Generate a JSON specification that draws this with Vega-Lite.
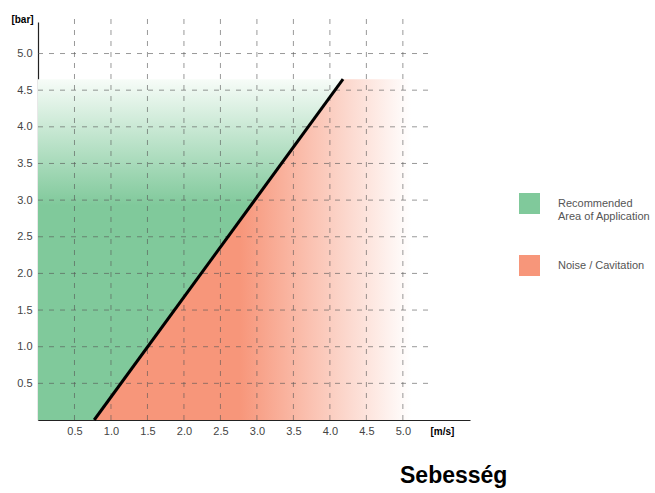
{
  "$schema": "https://vega.github.io/schema/vega-lite/v6.json",
  "width": 432,
  "height": 398,
  "autosize": {"type": "none"},
  "padding": {"left": 38, "top": 22, "right": 185, "bottom": 73},
  "background": "white",
  "config": {
    "view": {"stroke": null},
    "font": "Liberation Sans"
  },
  "title": {
    "text": "Sebesség",
    "orient": "bottom",
    "anchor": "start",
    "frame": "group",
    "dx": 362,
    "offset": 29,
    "fontSize": 23,
    "fontWeight": "bold",
    "color": "#000000",
    "font": "Liberation Sans"
  },
  "datasets": {
    "green": [
      {"y": 0, "x": 0, "x2": 0.77},
      {"y": 4.65, "x": 0, "x2": 4.18}
    ],
    "red": [
      {"y": 0, "x": 0.77, "x2": 5.2},
      {"y": 4.65, "x": 4.18, "x2": 5.2}
    ],
    "limit": [
      {"x": 0.77, "y": 0},
      {"x": 4.18, "y": 4.65}
    ],
    "hgrid": [
      {"v": 0.5}, {"v": 1.0}, {"v": 1.5}, {"v": 2.0}, {"v": 2.5},
      {"v": 3.0}, {"v": 3.5}, {"v": 4.0}, {"v": 4.5}, {"v": 5.0}
    ],
    "legend": [
      {"cat": "Recommended|Area of Application"},
      {"cat": "Noise / Cavitation"}
    ]
  },
  "layer": [
    {
      "data": {"name": "green"},
      "mark": {
        "type": "area",
        "orient": "horizontal",
        "fill": {
          "gradient": "linear",
          "x1": 0, "y1": 1, "x2": 0, "y2": 0,
          "stops": [
            {"offset": 0, "color": "#80c99b"},
            {"offset": 0.63, "color": "#80c99b"},
            {"offset": 1, "color": "#f7fcf8"}
          ]
        }
      },
      "encoding": {
        "y": {"field": "y", "type": "quantitative", "scale": {"domain": [0, 5.43], "nice": false},
          "axis": {
            "values": [0.5, 1.0, 1.5, 2.0, 2.5, 3.0, 3.5, 4.0, 4.5, 5.0],
            "format": ".1f",
            "grid": false,
            "ticks": false,
            "domainColor": "#222222",
            "domainWidth": 1.2,
            "labelColor": "#444444",
            "labelFontSize": 11,
            "labelPadding": 6,
            "title": "[bar]",
            "titleAngle": 0,
            "titleX": -16,
            "titleY": -3,
            "titleAlign": "center",
            "titleBaseline": "middle",
            "titleFontSize": 10,
            "titleFontWeight": "bold",
            "titleColor": "#000000"
          }
        },
        "x": {"field": "x", "type": "quantitative", "scale": {"domain": [0, 5.92], "nice": false},
          "axis": {
            "values": [0.5, 1.0, 1.5, 2.0, 2.5, 3.0, 3.5, 4.0, 4.5, 5.0],
            "format": ".1f",
            "grid": false,
            "ticks": false,
            "domainColor": "#222222",
            "domainWidth": 1.2,
            "labelColor": "#444444",
            "labelFontSize": 11,
            "labelPadding": 5,
            "title": "[m/s]",
            "titleX": 392,
            "titleY": 11,
            "titleAlign": "left",
            "titleBaseline": "middle",
            "titleFontSize": 10,
            "titleFontWeight": "bold",
            "titleColor": "#000000"
          }
        },
        "x2": {"field": "x2"}
      }
    },
    {
      "data": {"name": "red"},
      "mark": {
        "type": "area",
        "orient": "horizontal",
        "fill": {
          "gradient": "linear",
          "x1": 0, "y1": 0, "x2": 1, "y2": 0,
          "stops": [
            {"offset": 0, "color": "#f7967a"},
            {"offset": 0.45, "color": "#f7967a"},
            {"offset": 0.98, "color": "#ffffff"}
          ]
        }
      },
      "encoding": {
        "y": {"field": "y", "type": "quantitative"},
        "x": {"field": "x", "type": "quantitative"},
        "x2": {"field": "x2"}
      }
    },
    {
      "data": {"name": "hgrid"},
      "mark": {"type": "rule", "stroke": "#555555", "strokeOpacity": 0.6, "strokeWidth": 1, "strokeDash": [5, 6]},
      "encoding": {
        "y": {"field": "v", "type": "quantitative"},
        "x": {"datum": 0, "type": "quantitative"},
        "x2": {"datum": 5.42}
      }
    },
    {
      "data": {"name": "hgrid"},
      "mark": {"type": "rule", "stroke": "#555555", "strokeOpacity": 0.6, "strokeWidth": 1, "strokeDash": [5, 6]},
      "encoding": {
        "x": {"field": "v", "type": "quantitative"},
        "y": {"datum": 0, "type": "quantitative"},
        "y2": {"datum": 5.52}
      }
    },
    {
      "data": {"name": "limit"},
      "mark": {"type": "line", "color": "#000000", "strokeWidth": 3},
      "encoding": {
        "x": {"field": "x", "type": "quantitative"},
        "y": {"field": "y", "type": "quantitative"}
      }
    },
    {
      "data": {"name": "legend"},
      "mark": {"type": "square", "opacity": 0},
      "encoding": {
        "color": {
          "field": "cat", "type": "nominal",
          "scale": {"domain": ["Recommended|Area of Application", "Noise / Cavitation"], "range": ["#80c99b", "#f7967a"]},
          "legend": {
            "title": null,
            "orient": "none",
            "legendX": 481,
            "legendY": 171,
            "symbolType": "square",
            "symbolSize": 441,
            "symbolOpacity": 1,
            "symbolStrokeWidth": 0,
            "labelExpr": "split(datum.label, '|')",
            "labelFontSize": 11,
            "labelColor": "#555555",
            "labelOffset": 18,
            "labelLimit": 200,
            "rowPadding": 33
          }
        }
      }
    }
  ]
}
